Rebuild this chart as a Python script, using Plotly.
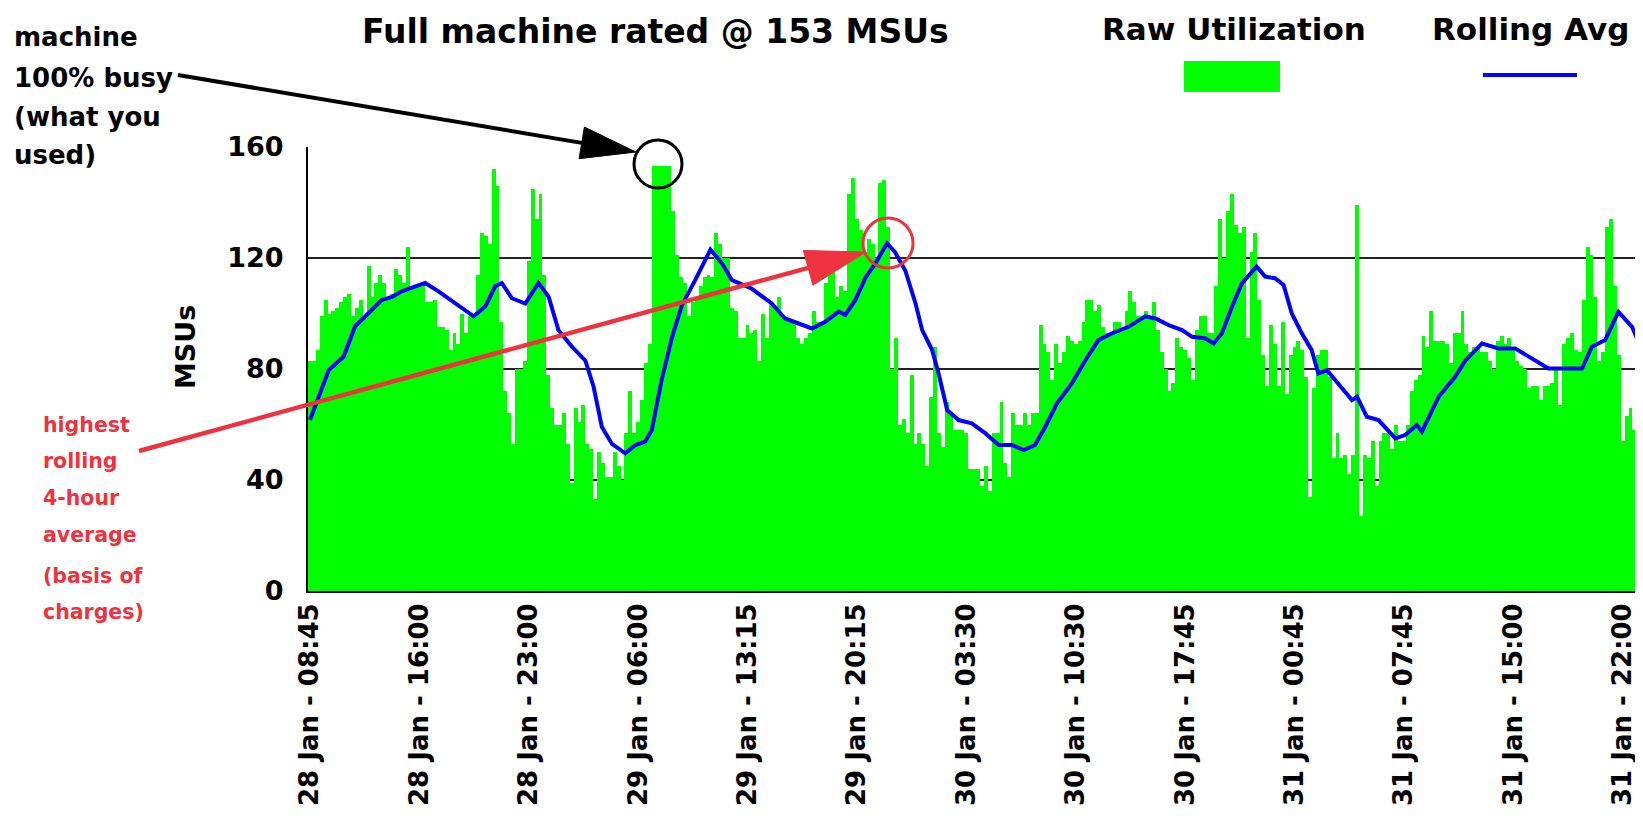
import math
import plotly.graph_objects as go

# ---------------- data ----------------
msu_raw = [
    83, 83, 87, 99, 105, 100, 101, 102, 104, 106,
    107, 99, 102, 105, 98, 117, 106, 111, 114, 111,
    106, 107, 116, 114, 111, 124, 110, 110, 110, 110,
    104, 104, 105, 95, 95, 94, 87, 93, 89, 100,
    93, 99, 99, 114, 129, 128, 125, 152, 146, 97,
    72, 64, 53, 80, 80, 83, 119, 145, 134, 143,
    114, 78, 66, 60, 60, 64, 53, 39, 66, 61,
    67, 53, 51, 33, 50, 46, 41, 41, 50, 45,
    40, 57, 72, 57, 61, 69, 82, 89, 153, 153,
    153, 153, 153, 137, 121, 113, 111, 99, 104, 105,
    110, 113, 114, 113, 129, 125, 120, 120,
    102, 101, 91, 91, 96, 93, 94, 83, 100, 91,
    104, 102, 106, 99, 98, 97, 97, 91, 89, 91,
    93, 101, 97, 97, 111, 115, 117, 106, 110, 108,
    143, 149, 134, 130, 122, 127, 125, 120, 147, 148,
    131, 80, 91, 60, 62, 57, 78, 53, 57, 53,
    45, 70, 88, 57, 52, 68, 64, 58, 58, 58,
    57, 44, 44, 44, 38, 45, 36, 57, 57, 68,
    46, 41, 64, 60, 60, 64, 60, 64, 64, 96,
    89, 86, 76, 89, 82, 86, 92, 90, 89, 90,
    97, 105, 105, 101, 103, 95, 93, 93, 97, 97,
    94, 101, 108, 104, 99, 99, 101,
    99, 104, 94, 86, 80, 72, 75, 91, 88, 87,
    84, 76, 94, 99, 99, 93, 93, 110, 134, 120,
    137, 143, 132, 129, 131, 91, 122, 129, 105, 85,
    74, 96, 89, 74, 97, 71, 85, 88, 90, 87,
    77, 34, 73, 85, 87, 87, 77, 48, 57, 48,
    49, 42, 49, 139, 27, 49, 48, 54, 38, 54,
    57, 57, 51, 60, 54, 54, 60, 72, 76, 78,
    92, 88, 101, 90, 90, 90, 89, 82, 93, 93,
    101, 89, 86, 88, 88, 86, 86, 83, 80, 90,
    92, 89, 91, 88, 83, 81, 80, 73, 74, 74,
    69, 74, 74, 75, 80, 67, 89, 91, 93, 87,
    86, 105, 124, 121, 106, 83, 86, 131, 134, 110,
    85, 54, 63, 66, 58, 63, 58,
]

avg_pos = [0, 2.2, 4.8, 8.6, 11.6, 14.2, 18.4, 21, 23.5, 27, 29.5, 32.9, 37.2, 41.9,
           44.9, 47.4, 49.1, 51.7, 55.1, 58.5, 61.1, 63.6, 67.1, 70.5, 72.6, 74.7,
           77.3, 80.7, 83.3, 85.8, 87.5, 90, 92.7, 95.2, 98.6, 102.5, 105.5, 108,
           113, 118.2, 121.6, 125.9, 128.5, 131.9, 135.3, 137, 139.6, 142.2, 144.7,
           147.7, 149.8, 152.4, 155, 156.7, 159.2, 160.9, 163.1, 166, 169.4, 172.9,
           176.3, 179.7, 182.7, 185.6, 188.2, 191.2, 195, 198.4, 201.8, 205.2,
           209.5, 213.8, 216.4, 219.8, 223.2, 225.8, 229.2, 231.3, 233.4, 236,
           238.5, 242.3, 244.5, 247, 249.2, 251.3, 253.9, 256.4, 258.1, 260.3,
           263.2, 266.7, 268, 270.5, 273.5, 277.8, 280.3, 283.3, 284.6, 288.9,
           293.1, 295.7, 300, 304.2, 308.5, 312.8, 317, 321.3, 325.6, 328.1,
           331.5, 334.9, 338.4, 341.6]
avg_val = [61.6, 70, 79.6, 84.4, 95.5, 99, 104.9, 106, 108, 109.8, 111, 108, 103.6, 99,
           102.6, 109.8, 111, 105.5, 103.6, 111, 106, 94, 88, 83, 73.6, 59.2,
           53, 49.6, 52.6, 53.8, 58, 76, 91.6, 103, 112, 123, 118, 112,
           109, 103.6, 98.2, 95.8, 94.6, 97, 100.7, 99.5, 104.9, 113, 118,
           125.3, 122, 115.4, 103.6, 94, 87, 78.4, 65.2, 61.6, 60.4, 56.8,
           52.6, 52.6, 50.8, 52.6, 59.2, 67.6, 74.8, 83, 90.4, 92.8,
           95.2, 99, 98.2, 95.8, 94, 91.6, 91, 89.2, 92.8, 102.4,
           110.8, 116.9, 113.3, 112.7, 110.3, 100, 92.8, 86.8, 78.4, 79.6,
           74.8, 68.8, 70, 62.8, 61.6, 55, 56.2, 59.8, 57.4, 70,
           77.2, 83, 89.2, 87.4, 87.4, 83.8, 80.2, 80.2, 80.2, 88,
           90.4, 100.6, 95.2, 84.4]

tick_labels = ["28 Jan - 08:45", "28 Jan - 16:00", "28 Jan - 23:00", "29 Jan - 06:00",
               "29 Jan - 13:15", "29 Jan - 20:15", "30 Jan - 03:30", "30 Jan - 10:30",
               "30 Jan - 17:45", "31 Jan - 00:45", "31 Jan - 07:45", "31 Jan - 15:00",
               "31 Jan - 22:00"]
label_every = 28
y_ticks = [0, 40, 80, 120, 160]

# ---------------- layout helpers (page pixel coordinates) ----------------
PAGE_W, PAGE_H = 1643, 822
OFF = 8                      # default body margin of the html page
W, H = PAGE_W - OFF, PAGE_H - OFF
L, T, B = 308, 147, 591      # plot left / top / bottom on the page
R = PAGE_W
FONT = "DejaVu Sans"
RED = "#ee3340"


def px(x):
    return (x - L) / (R - L)


def py(y):
    return (B - y) / (B - T)


bar_x = list(range(len(msu_raw)))

fig = go.Figure()
fig.add_trace(go.Bar(x=bar_x, y=msu_raw, marker=dict(color="#00ff00", line=dict(width=0)),
                     name="Raw Utilization", showlegend=False))
fig.add_trace(go.Scatter(x=avg_pos, y=avg_val, mode="lines",
                         line=dict(color="#0000ff", width=4), name="Rolling Avg",
                         showlegend=False))

annotations = []
shapes = []


def text(x, y, s, size, color="black", anchor="left"):
    annotations.append(dict(x=px(x), y=py(y), xref="paper", yref="paper",
                            text="<b>" + s + "</b>", showarrow=False,
                            xanchor=anchor, yanchor="middle",
                            font=dict(family=FONT, size=size, color=color)))


# title & legend
text(655, 31, "Full machine rated @ 153 MSUs", 33, anchor="center")
text(1234, 29, "Raw Utilization", 31, anchor="center")
text(1530, 29, "Rolling Avg", 31, anchor="center")
shapes.append(dict(type="rect", xref="paper", yref="paper", x0=px(1184), x1=px(1280),
                   y0=py(92), y1=py(61), fillcolor="#00ff00", line=dict(width=0)))
shapes.append(dict(type="line", xref="paper", yref="paper", x0=px(1483), x1=px(1577),
                   y0=py(75), y1=py(75), line=dict(color="#0000ff", width=4)))

# notes
for s, y in zip(["machine", "100% busy", "(what you", "used)"], [37, 78, 117, 155]):
    text(12, y, s, 26)
for s, y in zip(["highest", "rolling", "4-hour", "average", "(basis of", "charges)"],
                [425, 461, 498, 535, 576, 612]):
    text(41, y, s, 20.5, color=RED)

# axis title
annotations.append(dict(x=px(185), y=py(347), xref="paper", yref="paper", text="<b>MSUs</b>",
                        showarrow=False, textangle=-90, xanchor="center", yanchor="middle",
                        font=dict(family=FONT, size=27, color="black")))


def arrow(x0, y0, x1, y1, hl, hw, color, lw):
    dx, dy = x1 - x0, y1 - y0
    d = math.hypot(dx, dy)
    ux, uy = dx / d, dy / d
    bx, by = x1 - ux * hl, y1 - uy * hl
    nx, ny = -uy, ux
    shapes.append(dict(type="line", xref="paper", yref="paper", x0=px(x0), y0=py(y0),
                       x1=px(bx + ux * 3), y1=py(by + uy * 3), line=dict(color=color, width=lw)))
    p1 = (bx + nx * hw / 2, by + ny * hw / 2)
    p2 = (bx - nx * hw / 2, by - ny * hw / 2)
    path = f"M{px(x1)},{py(y1)} L{px(p1[0])},{py(p1[1])} L{px(p2[0])},{py(p2[1])} Z"
    shapes.append(dict(type="path", xref="paper", yref="paper", path=path,
                       fillcolor=color, line=dict(color=color, width=1)))


arrow(178, 75, 636, 152, 55, 32, "black", 4)
arrow(139, 451, 866, 252, 60, 36, RED, 4.5)


def circle(cx, cy, r, color):
    shapes.append(dict(type="circle", xref="paper", yref="paper",
                       x0=px(cx - r), x1=px(cx + r), y0=py(cy + r), y1=py(cy - r),
                       line=dict(color=color, width=3)))


circle(658, 164, 24, "black")
circle(888, 243, 25, RED)

fig.update_layout(
    width=W, height=H,
    margin=dict(l=L - OFF, r=PAGE_W - R, t=T - OFF, b=PAGE_H - B, pad=0),
    paper_bgcolor="white", plot_bgcolor="white",
    bargap=0, showlegend=False,
    annotations=annotations, shapes=shapes,
    font=dict(family=FONT, color="black"),
)
fig.update_xaxes(range=[-0.5, (R - L) / 3.907 - 0.5], tickmode="array",
                 tickvals=[i * label_every for i in range(len(tick_labels))],
                 ticktext=["<b>" + t + "</b>" for t in tick_labels], tickangle=-90,
                 tickfont=dict(family=FONT, size=26, color="black"),
                 showgrid=False, zeroline=False, showline=True, linecolor="black",
                 linewidth=2, ticks="", ticklabelstandoff=0)
fig.update_yaxes(range=[0, 160], tickvals=y_ticks,
                 ticktext=["<b>%d</b>" % v for v in y_ticks],
                 tickfont=dict(family=FONT, size=27, color="black"),
                 showgrid=True, gridcolor="#222222", gridwidth=1.5, zeroline=False,
                 showline=True, linecolor="black", linewidth=2, ticks="",
                 ticklabelstandoff=17)

assert len(msu_raw) == 342, len(msu_raw)
fig.write_html("out.html")
